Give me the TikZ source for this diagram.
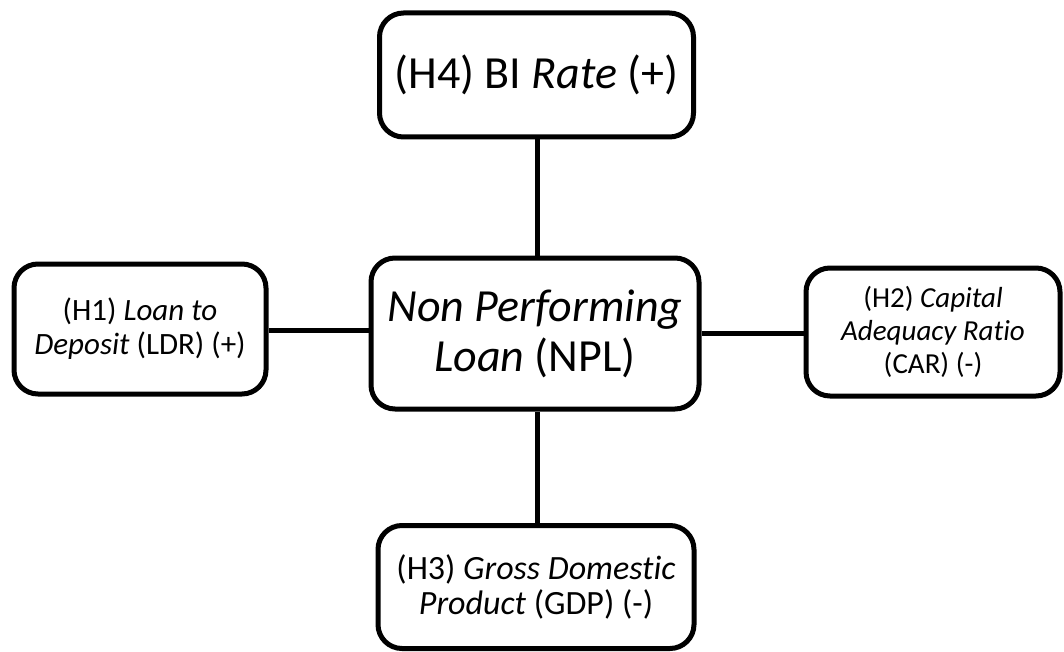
\documentclass[tikz,border=0pt]{standalone}
\usepackage{fontspec}
\setmainfont{Carlito}[Ligatures=NoCommon]
\begin{document}
\begin{tikzpicture}[x=1pt,y=-1pt,
  box/.style={draw=black,line width=5pt,rounded corners=24pt,align=center,inner sep=0pt},
  conn/.style={draw=black,line width=5pt},
  big/.style={font=\fontsize{46}{50}\selectfont},
  side/.style={font=\fontsize{31}{34}\selectfont}]
\useasboundingbox (0,0) rectangle (1064,652);
\node[box,big,minimum width=314pt,minimum height=124pt] (h4) at (536.5,75) {(H4) BI \textit{Rate} (+)};
\node[box,big,minimum width=328pt,minimum height=151pt] (npl) at (535,333.5) {\textit{Non Performing}\\\textit{Loan} (NPL)};
\node[box,side,minimum width=252pt,minimum height=130pt] (h1) at (140,329) {(H1) \textit{Loan to}\\\textit{Deposit} (LDR) (+)};
\node[box,font=\fontsize{29}{33}\selectfont,minimum width=254pt,minimum height=128pt] (h2) at (933,332) {(H2) \textit{Capital}\\\textit{Adequacy Ratio}\\(CAR) (-)};
\node[box,font=\fontsize{34}{35}\selectfont,minimum width=316pt,minimum height=123pt] (h3) at (536,587) {(H3) \textit{Gross Domestic}\\\textit{Product} (GDP) (-)};
\draw[conn] (h4.south -| 537,0) -- (npl.north -| 537,0);
\draw[conn] (npl.south -| 537,0) -- (h3.north -| 537,0);
\draw[conn] (h1.east |- 0,330) -- (npl.west |- 0,330);
\draw[conn] (npl.east |- 0,333) -- (h2.west |- 0,333);
\end{tikzpicture}
\end{document}
